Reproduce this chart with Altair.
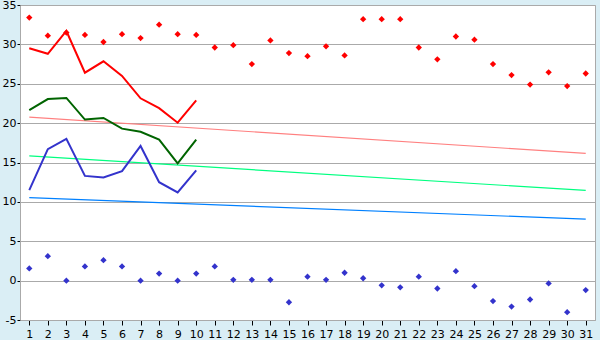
import altair as alt
import pandas as pd

days = list(range(1, 32))
max_pts = [33.4, 31.1, 31.5, 31.2, 30.3, 31.3, 30.8, 32.5, 31.3, 31.2,
           29.6, 29.9, 27.5, 30.5, 28.9, 28.5, 29.75, 28.6, 33.2, 33.2,
           33.2, 29.6, 28.1, 31.0, 30.6, 27.5, 26.1, 24.9, 26.45, 24.7, 26.3]
min_pts = [1.55, 3.1, 0.0, 1.8, 2.6, 1.8, 0.0, 0.9, 0.0, 0.9,
           1.8, 0.1, 0.1, 0.1, -2.75, 0.5, 0.1, 1.0, 0.3, -0.6,
           -0.85, 0.5, -1.0, 1.2, -0.7, -2.6, -3.3, -2.4, -0.35, -4.0, -1.2]
line_days = list(range(1, 11))
red_line = [29.5, 28.8, 31.7, 26.4, 27.85, 26.0, 23.15, 21.9, 20.05, 22.9]
green_line = [21.65, 23.05, 23.2, 20.45, 20.65, 19.3, 18.9, 17.9, 14.9, 17.9]
blue_line = [11.5, 16.7, 18.0, 13.3, 13.1, 13.9, 17.1, 12.5, 11.2, 14.0]
trend_days = [1, 31]
trend_red = [20.75, 16.15]
trend_green = [15.85, 11.45]
trend_blue = [10.55, 7.8]

xs = alt.Scale(domain=[0.5, 31.5], nice=False, zero=False)
ys = alt.Scale(domain=[-5, 35], nice=False, zero=False)
xax = alt.Axis(values=days, grid=False, title=None, tickSize=5, tickColor="#000000",
               domainColor="#aaaaaa", labelPadding=3)
yax = alt.Axis(values=list(range(-5, 36, 5)), grid=True, gridColor="#aaaaaa", title=None,
               tickSize=3, tickColor="#000000", domainColor="#aaaaaa", labelPadding=1,
               labelExpr="'' + datum.value")

def pts(vals, color):
    df = pd.DataFrame({"d": days, "v": vals})
    return alt.Chart(df).mark_point(shape="diamond", filled=True, size=40, color=color, opacity=1).encode(
        x=alt.X("d:Q", scale=xs, axis=xax), y=alt.Y("v:Q", scale=ys, axis=yax))

def line(xv, vals, color, w):
    df = pd.DataFrame({"d": xv, "v": vals})
    return alt.Chart(df).mark_line(color=color, strokeWidth=w).encode(
        x=alt.X("d:Q", scale=xs, axis=xax), y=alt.Y("v:Q", scale=ys, axis=yax))

chart = alt.layer(
    line(trend_days, trend_red, "#ff8080", 1.2),
    line(trend_days, trend_green, "#00ff80", 1.2),
    line(trend_days, trend_blue, "#0080ff", 1.2),
    line(line_days, red_line, "#ff0000", 2),
    line(line_days, green_line, "#006400", 2),
    line(line_days, blue_line, "#3333cc", 2),
    pts(max_pts, "#ff0000"),
    pts(min_pts, "#3333cc"),
).properties(
    width=575, height=315,
    padding={"left": 20, "top": 5, "right": 5, "bottom": 20},
    autosize=alt.AutoSizeParams(type="none"),
).configure(background="#daeef5").configure_view(
    fill="#ffffff", stroke="#aaaaaa", strokeWidth=1
).configure_axis(
    labelFont="DejaVu Sans", labelFontSize=11, labelColor="#000000"
)

chart.save("out.html", embed_options={"renderer": "svg", "actions": False})
